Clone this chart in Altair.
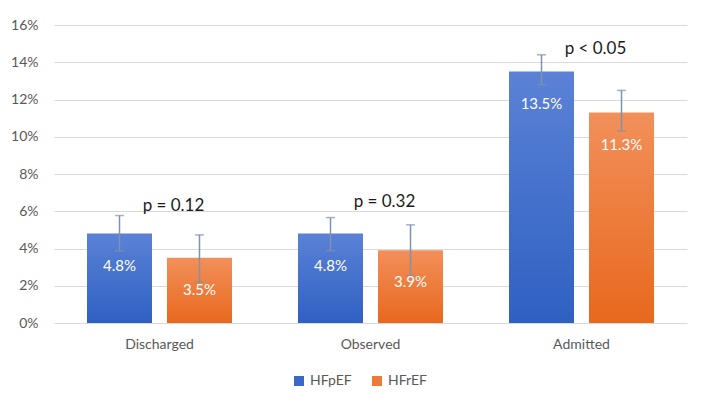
import altair as alt
import pandas as pd

categories = ["Discharged", "Observed", "Admitted"]
series = ["HFpEF", "HFrEF"]
hfpef = [4.8, 4.8, 13.5]
hfref = [3.5, 3.9, 11.3]
hfpef_lo = [3.87, 3.89, 12.8]
hfpef_hi = [5.77, 5.66, 14.4]
hfref_lo = [2.19, 2.53, 10.3]
hfref_hi = [4.73, 5.27, 12.49]
p_labels = ["p = 0.12", "p = 0.32", "p < 0.05"]
p_label_y = [6.3, 6.5, 14.7]

rows = []
for i, c in enumerate(categories):
    rows.append({"cat": c, "series": "HFpEF", "value": hfpef[i], "lo": hfpef_lo[i], "hi": hfpef_hi[i]})
    rows.append({"cat": c, "series": "HFrEF", "value": hfref[i], "lo": hfref_lo[i], "hi": hfref_hi[i]})
df = pd.DataFrame(rows)
pdf = pd.DataFrame({"cat": categories, "p": p_labels, "py": p_label_y})

FONT = "Lato"
GREY = "#595959"

blue_grad = alt.Gradient(gradient="linear", x1=0, y1=0, x2=0, y2=1,
                         stops=[alt.GradientStop(color="#5b82d6", offset=0),
                                alt.GradientStop(color="#2f60c2", offset=1)])
orange_grad = alt.Gradient(gradient="linear", x1=0, y1=0, x2=0, y2=1,
                           stops=[alt.GradientStop(color="#f2905a", offset=0),
                                  alt.GradientStop(color="#e8681e", offset=1)])

x_axis = alt.Axis(labelAngle=0, ticks=False, domain=False, labelPadding=14,
                  labelFontSize=14, labelColor=GREY, labelFont=FONT, grid=False)
x_enc = alt.X("cat:N", sort=categories, title=None,
              scale=alt.Scale(paddingInner=0, paddingOuter=0), axis=x_axis)
xo_enc = alt.XOffset("series:N", sort=series,
                     scale=alt.Scale(domain=series, paddingInner=0.1875, paddingOuter=0.4125))
y_scale = alt.Scale(domain=[0, 16], nice=False)
y_axis = alt.Axis(values=list(range(0, 17, 2)), labelExpr="datum.value + '%'",
                  ticks=False, domain=False, labelPadding=16, labelFontSize=14,
                  labelColor=GREY, labelFont=FONT, gridColor="#d9d9d9", gridWidth=1,
                  labelOverlap=False)


def Y(field):
    return alt.Y(field, type="quantitative", scale=y_scale, title=None, axis=y_axis)


base = alt.Chart(df).encode(x=x_enc, xOffset=xo_enc)

legend_layer = base.mark_square(size=1, opacity=1).encode(
    y=Y("lo"),
    color=alt.Color("series:N", sort=series,
                    scale=alt.Scale(domain=series, range=["#3a68c8", "#ec7a38"]),
                    legend=alt.Legend(title=None, orient="none", direction="horizontal",
                                      legendX=238, legendY=349, symbolType="square",
                                      symbolSize=100, symbolOpacity=1, symbolStrokeWidth=0,
                                      labelFontSize=14, labelColor=GREY, labelFont=FONT,
                                      columnPadding=18, labelOffset=4)),
)

bars = base.mark_bar().encode(
    y=Y("value"),
    color=alt.condition(alt.datum.series == "HFpEF", alt.value(blue_grad), alt.value(orange_grad)),
)

err = base.mark_rule(color="#7f93ad", strokeWidth=1.5).encode(y=Y("lo"), y2="hi:Q")
cap_hi = base.mark_tick(color="#7f93ad", thickness=1.5, size=9, orient="horizontal").encode(y=Y("hi"))
cap_lo = base.mark_tick(color="#7f93ad", thickness=1.5, size=9, orient="horizontal").encode(y=Y("lo"))

labels = base.transform_calculate(
    label="format(datum.value, '.1f') + '%'"
).mark_text(color="white", font=FONT, fontSize=15, baseline="middle", dy=32).encode(
    y=Y("value"), text="label:N"
)

ptext = alt.Chart(pdf).mark_text(font=FONT, fontSize=17, color="#1a1a1a", baseline="middle", dx=14).encode(
    x=alt.X("cat:N", sort=categories, title=None, axis=x_axis), y=Y("py"), text="p:N"
)

chart = alt.layer(legend_layer, bars, err, cap_hi, cap_lo, labels, ptext).properties(
    width=633, height=298,
    autosize=alt.AutoSizeParams(type="none"),
    padding={"left": 46, "top": 17, "right": 12, "bottom": 70},
).configure(background="white", view=alt.ViewConfig(stroke=None))

chart.save("out.html", embed_options={"renderer": "svg", "actions": False})
